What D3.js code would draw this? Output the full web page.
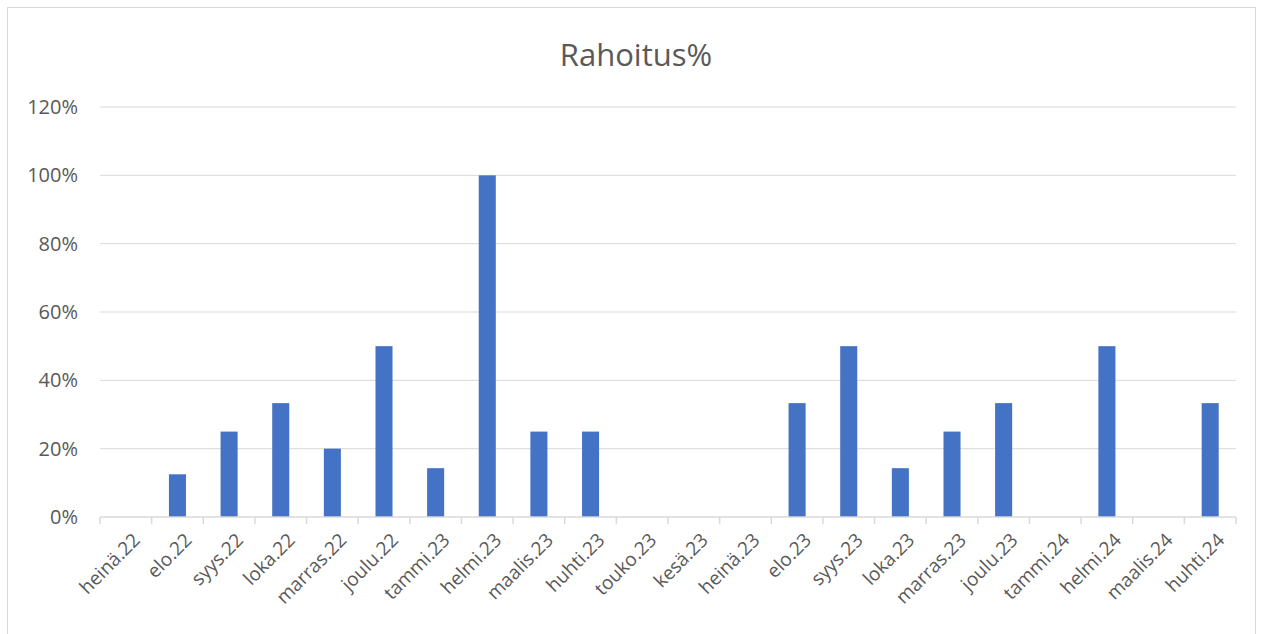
<!DOCTYPE html>
<html>
<head>
<meta charset="utf-8">
<script src="https://cdn.jsdelivr.net/npm/d3@7"></script>
<style>
  body { margin: 0; background: #fff; }
  svg { font-family: "Open Sans", "Liberation Sans", sans-serif; }
</style>
</head>
<body>
<div id="chart"></div>
<script>
const months = ["heinä.22", "elo.22", "syys.22", "loka.22", "marras.22", "joulu.22",
  "tammi.23", "helmi.23", "maalis.23", "huhti.23", "touko.23", "kesä.23", "heinä.23",
  "elo.23", "syys.23", "loka.23", "marras.23", "joulu.23", "tammi.24", "helmi.24",
  "maalis.24", "huhti.24"];
const rahoitus = [0, 0.125, 0.25, 0.3333, 0.2, 0.5, 0.1429, 1.0, 0.25, 0.25, 0, 0, 0,
  0.3333, 0.5, 0.1429, 0.25, 0.3333, 0, 0.5, 0, 0.3333];
const yTicks = [0, 0.2, 0.4, 0.6, 0.8, 1.0, 1.2];

const width = 1263, height = 634;
const margin = { top: 107, right: 27, bottom: 117, left: 100 };
const innerW = width - margin.left - margin.right;
const innerH = height - margin.top - margin.bottom;

const svg = d3.select("#chart").append("svg")
  .attr("width", width)
  .attr("height", height);

// chart frame
svg.append("rect")
  .attr("x", 7.5).attr("y", 7.5)
  .attr("width", width - 15).attr("height", height)
  .attr("fill", "none").attr("stroke", "#d9d9d9");

svg.append("text")
  .attr("x", 636).attr("y", 66)
  .attr("text-anchor", "middle")
  .attr("fill", "#595959")
  .style("font-size", "31px")
  .text("Rahoitus%");

const g = svg.append("g").attr("transform", `translate(${margin.left},${margin.top})`);

const x = d3.scaleBand().domain(months).range([0, innerW]).paddingInner(0.67).paddingOuter(0.335);
const xOuter = d3.scaleBand().domain(months).range([0, innerW]);
const y = d3.scaleLinear().domain([0, 1.2]).range([innerH, 0]);

// gridlines
g.append("g")
  .selectAll("line")
  .data(yTicks.slice(1))
  .enter()
  .append("line")
  .attr("x1", 0).attr("x2", innerW)
  .attr("y1", (d) => y(d)).attr("y2", (d) => y(d))
  .attr("stroke", "#d9d9d9").attr("stroke-width", 1);

// y axis labels
g.append("g")
  .call(d3.axisLeft(y).tickValues(yTicks).tickFormat(d3.format(".0%")).tickSize(0).tickPadding(22))
  .call((a) => a.select(".domain").remove())
  .call((a) => a.selectAll("text").attr("fill", "#595959").style("font-size", "20px")
    .style("font-family", "\"Open Sans\", \"Liberation Sans\", sans-serif"));

// bars
g.selectAll(".bar")
  .data(rahoitus)
  .enter()
  .append("rect")
  .attr("class", "bar")
  .attr("x", (d, i) => x(months[i]))
  .attr("width", x.bandwidth())
  .attr("y", (d) => y(d))
  .attr("height", (d) => innerH - y(d))
  .attr("fill", "#4472c4");

// x axis line and ticks at category boundaries
const xAxis = g.append("g").attr("transform", `translate(0,${innerH})`);
xAxis.append("line")
  .attr("x1", 0).attr("x2", innerW)
  .attr("stroke", "#d9d9d9").attr("stroke-width", 1.5);
xAxis.selectAll(".tk")
  .data(d3.range(months.length + 1))
  .enter()
  .append("line")
  .attr("class", "tk")
  .attr("x1", (i) => i * xOuter.step()).attr("x2", (i) => i * xOuter.step())
  .attr("y1", 0).attr("y2", 7)
  .attr("stroke", "#d9d9d9").attr("stroke-width", 1.5);

xAxis.selectAll(".lbl")
  .data(months)
  .enter()
  .append("text")
  .attr("class", "lbl")
  .attr("transform", (d) => `translate(${xOuter(d) + xOuter.bandwidth() / 2 + 6},${15})rotate(-45)`)
  .attr("text-anchor", "end")
  .attr("dy", "0.7em")
  .attr("fill", "#595959")
  .style("font-size", "19px")
  .text((d) => d);
</script>
</body>
</html>
